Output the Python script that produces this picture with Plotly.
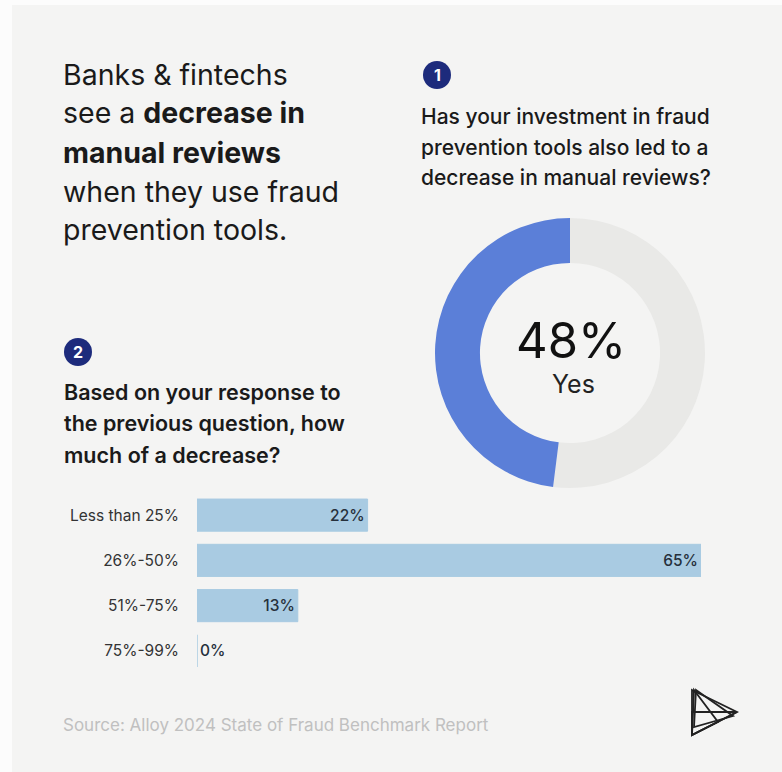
import plotly.graph_objects as go

W, H = 782, 772

# ---- data ----
donut_labels = ["No", "Yes"]
donut_values = [52, 48]

bar_categories = ["Less than 25%", "26%-50%", "51%-75%", "75%-99%"]
bar_values = [22, 65, 13, 0]
bar_text = [f"{v}%" for v in bar_values]

title_lines = [
    "Banks & fintechs",
    "see a <b>decrease in</b>",
    "<b>manual reviews</b>",
    "when they use fraud",
    "prevention tools.",
]
q1_lines = [
    "Has your investment in fraud",
    "prevention tools also led to a",
    "decrease in manual reviews?",
]
q2_lines = [
    "Based on your response to",
    "the previous question, how",
    "much of a decrease?",
]
source_text = "Source: Alloy 2024 State of Fraud Benchmark Report"


def px(x):
    return x / W


def py(y):
    return 1 - y / H


FONT = "Inter"
BG = "#f4f4f3"
BLUE = "#5b7fd8"
GREY = "#e9e9e7"
BAR = "#a9cbe2"
NAVY = "#1d2b7c"

fig = go.Figure()

fig.add_trace(go.Pie(
    labels=donut_labels, values=donut_values, hole=0.667, sort=False,
    direction="clockwise", rotation=0,
    marker=dict(colors=[GREY, BLUE], line=dict(width=0)),
    textinfo="none", hoverinfo="label+percent", showlegend=False,
    domain=dict(x=[px(435), px(705)], y=[py(488), py(218)]),
))

positions = ["inside" if v > 0 else "outside" for v in bar_values]
fig.add_trace(go.Bar(
    y=bar_categories, x=bar_values, orientation="h",
    marker=dict(color=BAR, line=dict(color=BAR, width=1)),
    width=0.71, text=bar_text, textposition=positions,
    insidetextanchor="end",
    textfont=dict(family=FONT, size=15.5, color="#26303c", weight=500),
    cliponaxis=False, showlegend=False,
))

fig.update_layout(
    width=W, height=H, margin=dict(l=0, r=0, t=0, b=0),
    paper_bgcolor=BG, plot_bgcolor="rgba(0,0,0,0)",
    font=dict(family=FONT, color="#1a1a1a"),
    xaxis=dict(domain=[px(197), px(701)], range=[0, 65], visible=False, fixedrange=True),
    yaxis=dict(domain=[py(673.5), py(492.5)], range=[3.5, -0.5],
               showgrid=False, zeroline=False, showline=False,
               ticks="", ticklabelstandoff=17,
               tickfont=dict(family=FONT, size=15.5, color="#333333")),
    bargap=0.3,
)

ann = []


def add_text(x, y, text, size, color="#1a1a1a", anchor="left", weight=None):
    f = dict(family=FONT, size=size, color=color)
    if weight:
        f["weight"] = weight
    ann.append(dict(x=px(x), y=py(y), xref="paper", yref="paper", text=text,
                    showarrow=False, xanchor=anchor, yanchor="middle", font=f))


for i, t in enumerate(title_lines):
    add_text(61, 74 + i * 39, t, 28.5)
for i, t in enumerate(q1_lines):
    add_text(419, 117 + i * 30.5, t, 21, weight=500)
for i, t in enumerate(q2_lines):
    add_text(62, 392 + i * 31.5, t, 21.5, weight=600)

add_text(571, 340, "48%", 49, "#111111", "center")
add_text(573, 384, "Yes", 25, "#222222", "center")
add_text(61, 725, source_text, 17, "#c0c0c0")

# white outer margin on top and left of the card
shapes = [
    dict(type="rect", xref="paper", yref="paper", layer="below",
         x0=0, x1=px(12), y0=0, y1=1, fillcolor="#fcfcfc", line=dict(width=0)),
    dict(type="rect", xref="paper", yref="paper", layer="below",
         x0=0, x1=1, y0=py(5), y1=1, fillcolor="#fcfcfc", line=dict(width=0)),
]
for (cx, cy, n) in [(437, 75, "1"), (78, 352, "2")]:
    r = 14
    shapes.append(dict(type="circle", xref="paper", yref="paper",
                       x0=px(cx - r), x1=px(cx + r), y0=py(cy + r), y1=py(cy - r),
                       fillcolor=NAVY, line=dict(width=0)))
    add_text(cx, cy, f"<b>{n}</b>", 16, "white", "center")


def tri_path(pts):
    s = f"M {px(pts[0][0])},{py(pts[0][1])}"
    for (x, y) in pts[1:]:
        s += f" L {px(x)},{py(y)}"
    return s + " Z"


for pts in [
    [(692, 690), (737, 712), (692, 735)],
    [(694, 690), (718, 722), (692, 735)],
    [(692, 712), (737, 712), (692, 735)],
    [(696, 690), (733, 716), (694, 727)],
]:
    shapes.append(dict(type="path", xref="paper", yref="paper", path=tri_path(pts),
                       line=dict(color="#222222", width=1.8), fillcolor="rgba(0,0,0,0)"))

fig.update_layout(annotations=ann, shapes=shapes)

fig.write_html("out.html")
